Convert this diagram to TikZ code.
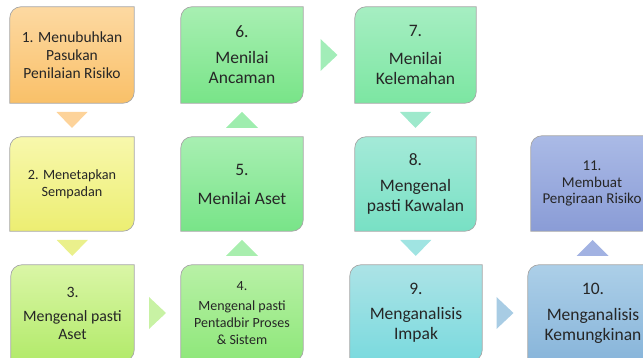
\documentclass[tikz,border=0pt]{standalone}
\usepackage{fontspec}
\setmainfont{Carlito}
\usetikzlibrary{calc,backgrounds}
\definecolor{txt}{HTML}{262626}
\definecolor{bordergray}{HTML}{A6A6A6}
\definecolor{oA}{HTML}{FDD9A2}\definecolor{oB}{HTML}{F9C068}
\definecolor{yA}{HTML}{F8F8AC}\definecolor{yB}{HTML}{ECEE72}
\definecolor{lgA}{HTML}{DAF6A6}\definecolor{lgB}{HTML}{B2EA6A}
\definecolor{gA}{HTML}{B8F1A6}\definecolor{gB}{HTML}{8EE77A}
\definecolor{mA}{HTML}{A8EFB2}\definecolor{mB}{HTML}{78E488}
\definecolor{sA}{HTML}{A6EEC2}\definecolor{sB}{HTML}{7CE6A2}
\definecolor{tA}{HTML}{A4EAD8}\definecolor{tB}{HTML}{78E0C4}
\definecolor{cA}{HTML}{ACE3E6}\definecolor{cB}{HTML}{7ADADE}
\definecolor{bA}{HTML}{ACCFE8}\definecolor{bB}{HTML}{88B5DA}
\definecolor{pA}{HTML}{AABAE6}\definecolor{pB}{HTML}{8A9CD6}
\definecolor{a12}{HTML}{FDD39A}\definecolor{a23}{HTML}{EAF08C}
\definecolor{a34}{HTML}{C8F2A4}\definecolor{a45}{HTML}{A8EEAE}
\definecolor{a56}{HTML}{9EEDAE}\definecolor{a67}{HTML}{A2EDB8}
\definecolor{a78}{HTML}{9EE9CC}\definecolor{a89}{HTML}{A0E4E2}
\definecolor{a910}{HTML}{A8CCE4}\definecolor{a1011}{HTML}{A2B2E2}
\tikzset{
  stepbox/.style={rectangle, inner sep=0pt, align=center, text=txt},
  boxline/.style={draw=bordergray, line width=0.7pt},
}
\newcommand{\boxshape}[3]{%
  \shade[boxline, top color=#2, bottom color=#3]
    ([yshift=-11pt]#1.north west) arc[start angle=180,end angle=90,radius=11pt]
    -- (#1.north east) -- ([yshift=11pt]#1.south east)
    arc[start angle=0,end angle=-90,radius=11pt] -- (#1.south west) -- cycle;}
\newcommand{\tridown}[3]{\fill[#3] ($(#1.south)!0.5!(#2.north)$) ++(-15.5,8) -- ++(31,0) -- ++(-15.5,-16) -- cycle;}
\newcommand{\triup}[3]{\fill[#3] ($(#1.north)!0.5!(#2.south)$) ++(-16,-8) -- ++(32,0) -- ++(-16,16) -- cycle;}
\newcommand{\triright}[3]{\fill[#3] ($(#1.east)!0.5!(#2.west)$) ++(-8.5,16) -- ++(0,-32) -- ++(17,16) -- cycle;}
\begin{document}
\begin{tikzpicture}[x=1pt,y=1pt]
\useasboundingbox (0,0) rectangle (643,358);
% nodes
\node[stepbox, minimum width=124pt, minimum height=96pt, font=\fontsize{15.5}{18}\selectfont] (n1) at (72,303) {1. Menubuhkan\\Pasukan\\Penilaian Risiko};
\node[stepbox, minimum width=124pt, minimum height=94pt, font=\fontsize{14.2}{17}\selectfont] (n2) at (72,174) {2. Menetapkan\\Sempadan};
\node[stepbox, minimum width=123pt, minimum height=96pt, font=\fontsize{15.8}{18}\selectfont] (n3) at (72.5,45) {3.\\[6pt]Mengenal pasti\\Aset};
\node[stepbox, minimum width=122pt, minimum height=96pt, font=\fontsize{14}{17}\selectfont] (n4) at (242,45) {4.\\[3pt]Mengenal pasti\\Pentadbir Proses\\\& Sistem};
\node[stepbox, minimum width=122pt, minimum height=94pt, font=\fontsize{17.5}{20}\selectfont] (n5) at (242,174) {5.\\[9pt]Menilai Aset};
\node[stepbox, minimum width=122pt, minimum height=96pt, font=\fontsize{17.5}{20}\selectfont] (n6) at (242,303) {6.\\[6pt]Menilai\\Ancaman};
\node[stepbox, minimum width=121pt, minimum height=96pt, font=\fontsize{17.5}{20}\selectfont] (n7) at (415.5,303) {7.\\[8pt]Menilai\\Kelemahan};
\node[stepbox, minimum width=121pt, minimum height=94pt, font=\fontsize{17.5}{20}\selectfont] (n8) at (415.5,174) {8.\\[6pt]Mengenal\\pasti Kawalan};
\node[stepbox, minimum width=132pt, minimum height=96pt, font=\fontsize{17.5}{20}\selectfont] (n9) at (416,45) {9.\\[5pt]Menganalisis\\Impak};
\node[stepbox, minimum width=130pt, minimum height=96pt, font=\fontsize{17.5}{20}\selectfont] (n10) at (593,45) {10.\\[6pt]Menganalisis\\Kemungkinan};
\node[stepbox, minimum width=122pt, minimum height=95pt, font=\fontsize{15}{16}\selectfont] (n11) at (592,174.5) {11.\\[1pt]Membuat\\Pengiraan Risiko};
\begin{scope}[on background layer]
\boxshape{n1}{oA}{oB}
\boxshape{n2}{yA}{yB}
\boxshape{n3}{lgA}{lgB}
\boxshape{n4}{gA}{gB}
\boxshape{n5}{mA}{mB}
\boxshape{n6}{mA}{mB}
\boxshape{n7}{sA}{sB}
\boxshape{n8}{tA}{tB}
\boxshape{n9}{cA}{cB}
\boxshape{n10}{bA}{bB}
\boxshape{n11}{pA}{pB}
\end{scope}
% connectors
\tridown{n1}{n2}{a12}
\tridown{n2}{n3}{a23}
\triright{n3}{n4}{a34}
\triup{n4}{n5}{a45}
\triup{n5}{n6}{a56}
\triright{n6}{n7}{a67}
\tridown{n7}{n8}{a78}
\tridown{n8}{n9}{a89}
\triright{n9}{n10}{a910}
\triup{n10}{n11}{a1011}
\end{tikzpicture}
\end{document}
